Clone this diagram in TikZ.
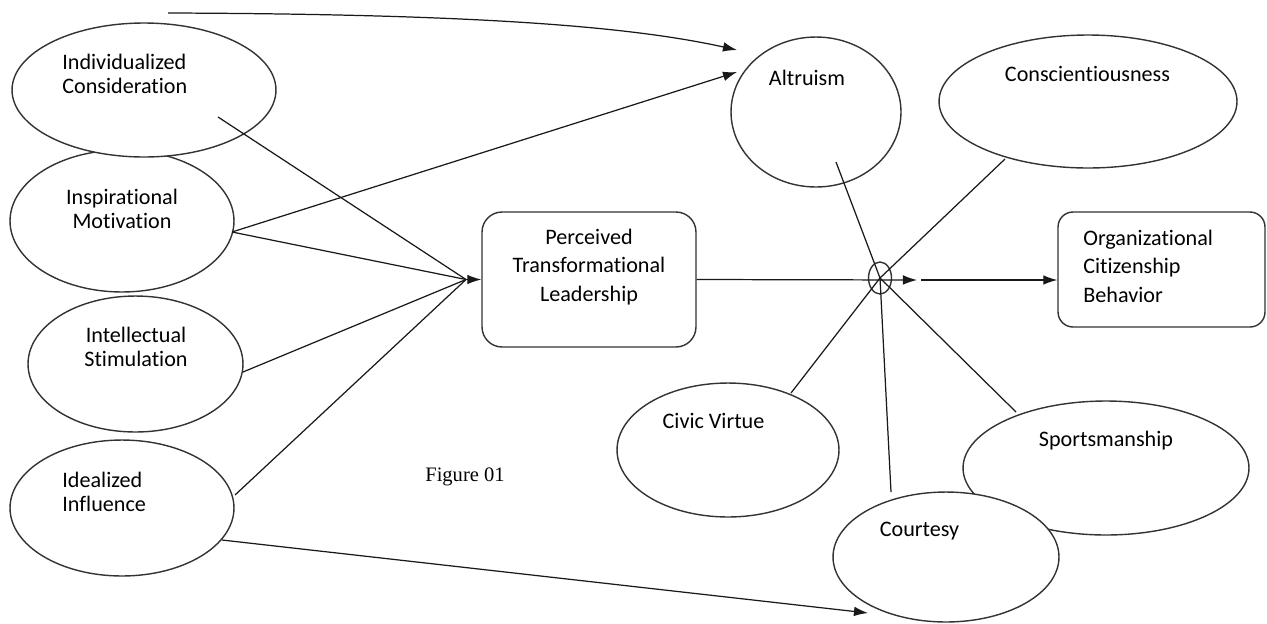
\documentclass[tikz,border=0pt]{standalone}
\usepackage{fontspec}
\setmainfont{Carlito}[Ligatures=NoCommon]
\newfontfamily\capfont{Liberation Serif}
\usetikzlibrary{arrows.meta,shapes.geometric}

\begin{document}
\begin{tikzpicture}[x=0.02cm,y=-0.02cm,
  oval/.style={ellipse, draw=black!80, line width=0.8pt, fill=white, inner sep=0pt},
  rbox/.style={rectangle, draw=black!80, line width=0.8pt, fill=white, inner sep=0pt},
  lbl/.style={inner sep=0pt, font=\fontsize{12.6}{13.6}\selectfont},
  boxlbl/.style={inner sep=0pt, font=\fontsize{12.6}{16.2}\selectfont},
  conn/.style={line width=0.7pt, draw=black!90},
  arr/.style={conn, -{Latex[length=8pt,width=5.5pt]}}
]
\useasboundingbox (0,0) rectangle (1267,623);

% dimensions of transformational leadership
\node[oval, minimum width=4.48cm, minimum height=2.84cm] (im) at (122,221) {};
\node[oval, minimum width=5.28cm, minimum height=2.68cm] (ic) at (144,90) {};
\node[oval, minimum width=4.30cm, minimum height=2.72cm] (is) at (135.5,364) {};
\node[oval, minimum width=4.48cm, minimum height=2.72cm] (ii) at (122,508) {};

\node[lbl, anchor=west, align=left] (ict) at (62,74) {Individualized\\Consideration};
\node[lbl, align=center] (imt) at (122,209) {Inspirational\\Motivation};
\node[lbl, align=center] (ist) at (136,347) {Intellectual\\Stimulation};
\node[lbl, anchor=west, align=left] (iit) at (62,492) {Idealized\\Influence};

% central construct and outcome
\node[rbox, rounded corners=0.4cm, minimum width=4.28cm, minimum height=2.70cm] (ptl) at (589,279.5) {};
\node[boxlbl, align=center] (ptlt) at (589,267) {Perceived\\Transformational\\Leadership};
\node[rbox, rounded corners=0.3cm, minimum width=4.14cm, minimum height=2.30cm] (ocb) at (1161.5,269.5) {};
\node[boxlbl, anchor=west, align=left] (ocbt) at (1083,266) {Organizational\\Citizenship\\Behavior};

% OCB dimensions
\node[oval, minimum width=3.40cm, minimum height=3.00cm] (alt) at (816,112) {};
\node[oval, minimum width=5.96cm, minimum height=2.66cm] (con) at (1088,101.5) {};
\node[oval, minimum width=4.44cm, minimum height=2.68cm] (civ) at (728,450) {};
\node[oval, minimum width=5.72cm, minimum height=2.68cm] (spo) at (1106,468) {};
\node[oval, minimum width=4.52cm, minimum height=2.60cm] (cou) at (946,557) {};

\node[lbl] (altt) at (807,78) {Altruism};
\node[lbl] (cont) at (1087.5,74) {Conscientiousness};
\node[lbl] (civt) at (713.5,421) {Civic Virtue};
\node[lbl] (spot) at (1106,441) {Sportsmanship};
\node[lbl] (cout) at (919.5,531) {Courtesy};

\node[inner sep=0pt, font=\capfont\fontsize{11.7}{13}\selectfont] (fig) at (465,477) {Figure 01};

% connector end points
\coordinate (icS) at (218,117);
\coordinate (imS) at (232,232);
\coordinate (isS) at (243,372);
\coordinate (iiS) at (235,495);
\coordinate (iiB) at (222,540);
\coordinate (topS) at (168,13);
\coordinate (conv) at (466,279.5);
\coordinate (altA) at (737,72);
\coordinate (altB) at (737,50);
\coordinate (couA) at (868,613);
\coordinate (hubA) at (917,280);
\coordinate (hubB) at (921,280);
\coordinate (altS) at (836,162);
\coordinate (conS) at (1005,159);
\coordinate (civS) at (791,393);
\coordinate (spoS) at (1016,412);
\coordinate (couS) at (891,492);

% hub joining the OCB dimensions
\node[ellipse, draw=black!80, line width=0.8pt, inner sep=0pt, minimum width=0.46cm, minimum height=0.64cm] (hub) at (880,278) {};

% dimensions into perceived leadership
\draw[conn] (icS) -- (conv);
\draw[conn] (imS) -- (conv);
\draw[conn] (isS) -- (conv);
\draw[conn] (iiS) -- (conv);
\draw[arr] (conv) -- (ptl.west);

% direct paths
\draw[arr] (imS) -- (altA);
\draw[arr] (topS) .. controls (450,14) and (620,24) .. (altB);
\draw[arr] (iiB) -- (couA);

% leadership to OCB
\draw[arr] (ptl.east) -- (hubA);
\draw[arr] (hubB) -- (hubB -| ocb.west);

% spokes
\draw[conn] (altS) -- (hub.center);
\draw[conn] (conS) -- (hub.center);
\draw[conn] (civS) -- (hub.center);
\draw[conn] (spoS) -- (hub.center);
\draw[conn] (couS) -- (hub.center);
\end{tikzpicture}
\end{document}
